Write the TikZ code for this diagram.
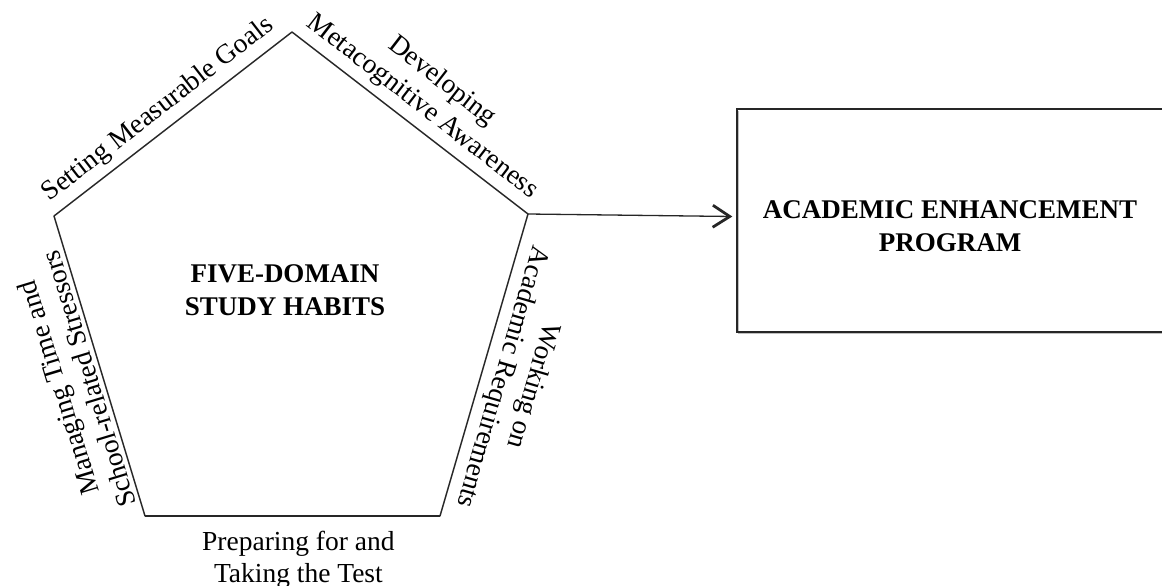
\documentclass[tikz,border=0pt]{standalone}
\usepackage{fontspec}
\setmainfont{Liberation Serif}
\usetikzlibrary{arrows.meta,calc}
\begin{document}
\begin{tikzpicture}[x=1pt,y=-1pt,
  edge/.style={line width=1.3pt, draw=black!85},
  shade/.style={line width=1.6pt, draw=black!25},
  lbl/.style={font=\fontsize{27.5}{32}\selectfont, align=center, inner sep=7pt},
  titletext/.style={font=\fontsize{27}{33}\selectfont\bfseries, align=center},
]
\useasboundingbox (0,0) rectangle (1162,586);
\coordinate (T) at (292,32);
\coordinate (UR) at (528,214);
\coordinate (LR) at (440,516);
\coordinate (LL) at (145,516);
\coordinate (UL) at (54,216);
% faint shadow
\draw[shade, shift={(1.5,1.5)}] (T) -- (UR) -- (LR) -- (LL) -- (UL) -- cycle;
\draw[edge] (UL) -- node[lbl, sloped, above, pos=0.49] {Setting Measurable Goals} (T);
\draw[edge] (T) -- node[lbl, sloped, above, pos=0.5] {Developing\\Metacognitive Awareness} (UR);
\draw[edge] (UR) -- node[lbl, sloped, allow upside down, above, pos=0.52] {Working on\\Academic Requirements} (LR);
\draw[edge] (LR) -- node[lbl, below, pos=0.48, inner sep=14pt] {Preparing for and\\Taking the Test} (LL);
\draw[edge] (LL) -- node[lbl, sloped, allow upside down, above, pos=0.47, inner sep=4pt] {Managing Time and\\School-related Stressors} (UL);
\node[titletext] (five) at (285,290) {FIVE-DOMAIN\\STUDY HABITS};
% rectangle (right side runs off the page)
\draw[draw=black!25, line width=1.6pt] (738.5,111) -- (738.5,333.5) -- (1170,333.5);
\node[draw=black!85, line width=1.3pt, minimum width=430pt, minimum height=223pt, inner sep=0pt] (aep) at (952,220.5) {};
\node[titletext] (aeptext) at (950,226) {ACADEMIC ENHANCEMENT\\PROGRAM};
\draw[line width=1.3pt, draw=black!85, -{Straight Barb[length=17pt,width=22pt,line width=2.8pt]}] (UR) -- ($(aep.west)+(-4,-4)$);
\end{tikzpicture}
\end{document}
